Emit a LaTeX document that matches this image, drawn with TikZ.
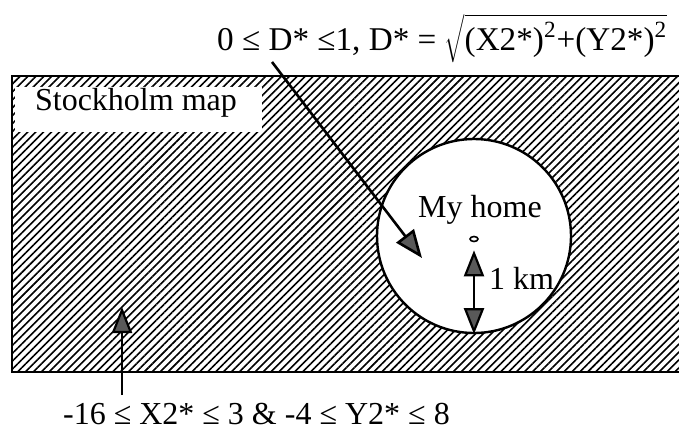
\documentclass[tikz,border=0pt]{standalone}
\usepackage{fontspec}
\setmainfont{Liberation Serif}
\usetikzlibrary{arrows.meta,patterns.meta,shapes.geometric}
\begin{document}
\begin{tikzpicture}
  [x=0.5pt,y=-0.5pt,line width=1.1pt,
   every node/.style={font=\fontsize{16}{19}\selectfont,inner sep=0pt},
   greytip/.tip={Triangle[length=13pt,width=10pt,fill=black!65]},
   bigtip/.tip={Triangle[length=14pt,width=11pt,fill=black!65]},
   hatch/.style={pattern={Lines[angle=45,distance=2.8pt,line width=0.8pt]}}]
 \useasboundingbox (0,0) rectangle (679,429);

 % the map
 \fill[hatch] (12,76) rectangle (679,372);
 \draw[line width=1.3pt] (679,76) -- (12,76) -- (12,372) -- (679,372);
 \fill[white] (15,87) rectangle (262,132);
 \node[anchor=base west] (map) at (34,110) {Stockholm map};

 % the zone round home
 \node[circle,draw,fill=white,line width=1.2pt,minimum size=97pt] (zone) at (474,236) {};
 \node[ellipse,draw,line width=0.8pt,minimum width=4pt,minimum height=2.5pt] (home) at (474,239) {};
 \node (label) at (480,210) {My home};
 \node[anchor=west] (km) at (488,278) {1 km};

 % formulas
 \node[anchor=base west,font=\fontsize{16.6}{19}\selectfont] (dist) at (216,50)
   {0 ≤ D* ≤1, D* = \(\sqrt{\mbox{(X2*)\textsuperscript{2}+(Y2*)\textsuperscript{2}}}\)};
 \node[anchor=base west] (range) at (62,424)
   {-16 ≤ X2* ≤ 3 \& -4 ≤ Y2* ≤ 8};

 \coordinate (dtail) at (272,62);
 \coordinate (dtip) at (422,258);
 \coordinate (rtail) at (122,395);
 \coordinate (rtip) at (122,307);

 \draw[-bigtip,line width=1.3pt] (dtail) -- (dtip);
 \draw[greytip-greytip] ([yshift=-4pt]home.south) -- (zone.south);
 \draw[-greytip] (rtail) -- (rtip);

\end{tikzpicture}
\end{document}
